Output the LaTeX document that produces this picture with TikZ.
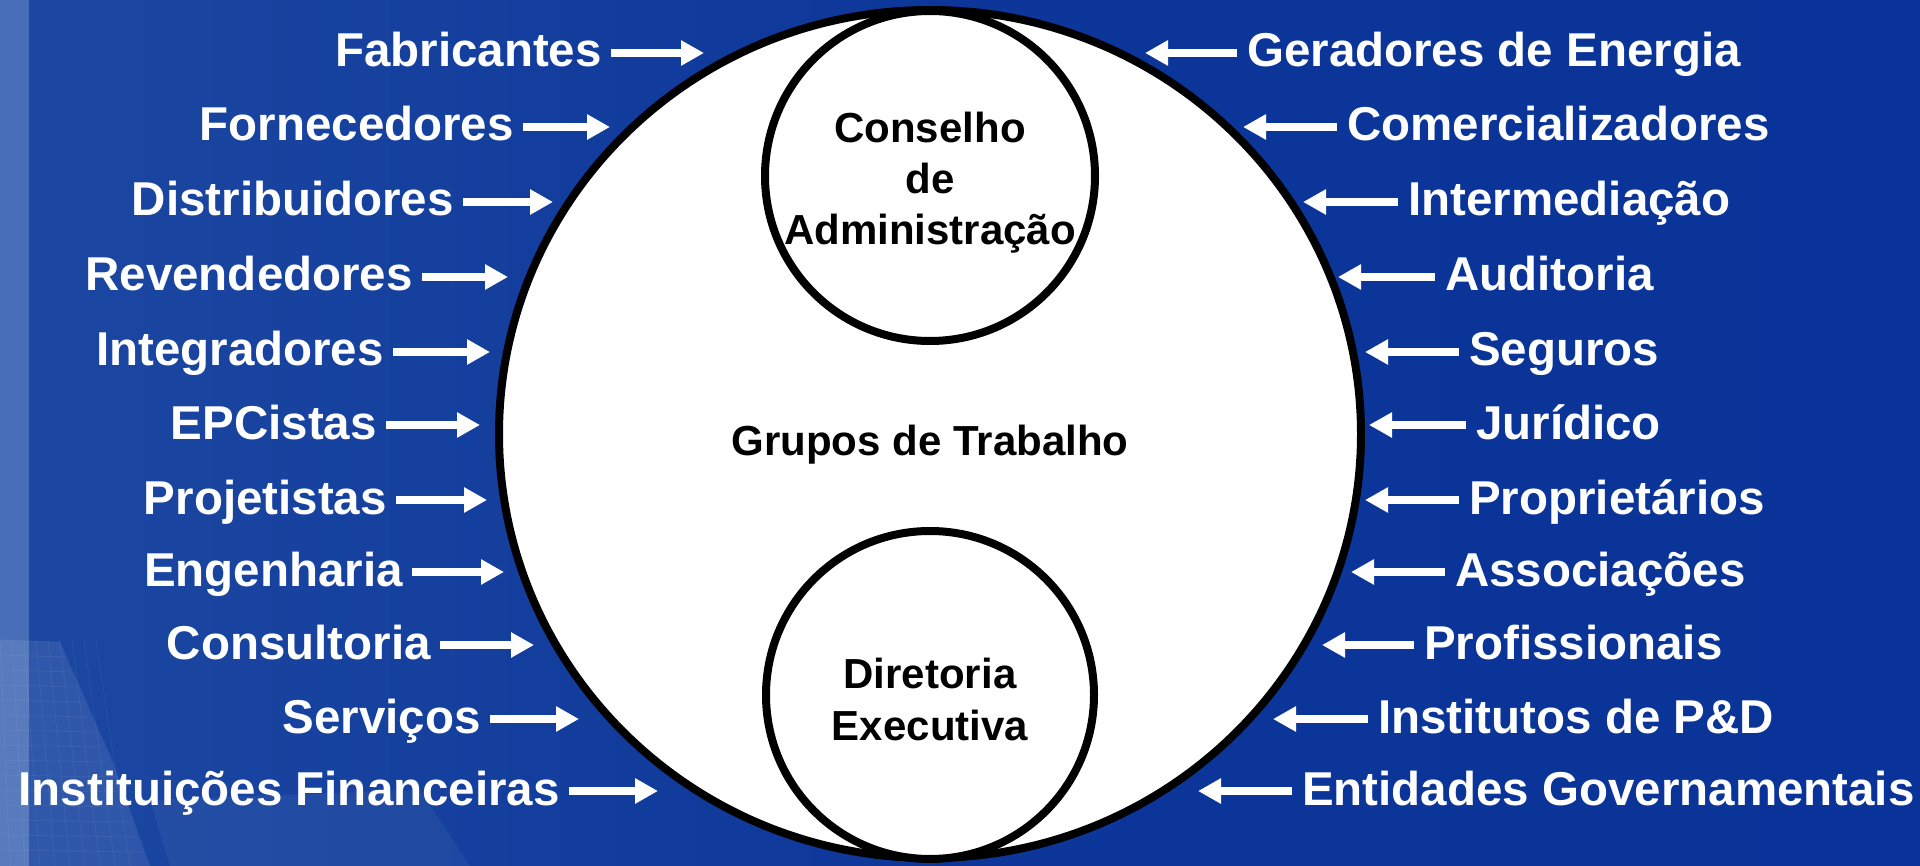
\documentclass[tikz,border=0pt]{standalone}
\usepackage{fontspec}
\setmainfont{Liberation Sans}
\usetikzlibrary{arrows.meta,shapes.geometric}
\definecolor{bgA}{RGB}{44,84,170}
\definecolor{bgB}{RGB}{28,72,162}
\definecolor{bgC}{RGB}{12,54,153}
\definecolor{bgD}{RGB}{6,48,150}
\definecolor{strip}{RGB}{72,110,184}
\pgfdeclarehorizontalshading{bgshade}{100bp}{color(0bp)=(bgA); color(25bp)=(bgB); color(50bp)=(bgC); color(100bp)=(bgD)}
\tikzset{
  lbl/.style={text=white, inner sep=0pt, font=\bfseries\fontsize{47.5}{57}\selectfont},
  inner/.style={text=black, inner sep=0pt, font=\bfseries\fontsize{42}{51}\selectfont},
  arr/.style={white, line width=8pt, -{Triangle[length=23pt,width=24pt]}},
  ring/.style={circle, draw=black, line width=8pt, fill=white, inner sep=0pt},
}
\begin{document}
\begin{tikzpicture}[x=1pt,y=-1pt]
\useasboundingbox (0,0) rectangle (1920,866);
% background
\shade[shading=bgshade] (0,0) rectangle (1920,866);
\fill[strip] (0,0) rectangle (29,866);
% faint solar panel, bottom left
\fill[white, opacity=0.09] (0,640) -- (60,642) -- (112,760) -- (150,866) -- (0,866) -- cycle;
\fill[white, opacity=0.05] (150,800) -- (420,790) -- (470,866) -- (170,866) -- cycle;
\begin{scope}[white, opacity=0.06, line width=0.8pt]
  \foreach \k in {0,...,14} {\draw (0,640+\k*15) -- (60+\k*6,642+\k*15);}
  \foreach \k in {0,...,8} {\draw (\k*12,640) -- (\k*15+10,866);}
\end{scope}
% main ellipse and circles
\node[ellipse, draw=black, line width=8pt, fill=white, minimum width=862pt, minimum height=848pt, inner sep=0pt] (grupo) at (930,434) {};
\node[inner, anchor=base] (gt) at (930,456) {Grupos de Trabalho};
\node[ring, minimum size=330pt] (conselho) at (930,176) {};
\node[inner, anchor=base] (c1) at (930,143) {Conselho};
\node[inner, anchor=base] (c2) at (930,194) {de};
\node[inner, anchor=base] (c3) at (930,245) {Administração};
\node[ring, minimum size=328pt] (diretoria) at (930,695) {};
\node[inner, anchor=base] (d1) at (930,688) {Diretoria};
\node[inner, anchor=base] (d2) at (930,740) {Executiva};
% left labels
\foreach \n/\t/\y/\xe/\xt in {
  fab/Fabricantes/53/602/704,
  forn/Fornecedores/127/514/610,
  dist/Distribuidores/202/454/553,
  rev/Revendedores/277/413/508,
  integ/Integradores/352/384/490,
  epc/EPCistas/425/377/480,
  proj/Projetistas/500/387/487,
  eng/Engenharia/572/403/504,
  cons/Consultoria/645/431/534,
  serv/Serviços/719/481/579,
  inst/Instituições Financeiras/791/560/658} {
  \node[lbl, anchor=base east] (\n) at (\xe,\y+14) {\t};
  \coordinate (\n-tip) at (\xt,\y);
  \draw[arr] ([xshift=9pt,yshift=14pt]\n.base east) -- (\n-tip);
}
% right labels
\foreach \n/\t/\y/\xl/\xt in {
  ger/Geradores de Energia/53/1247/1145,
  com/Comercializadores/127/1347/1243,
  inter/Intermediação/202/1408/1303,
  aud/Auditoria/277/1445/1338,
  seg/Seguros/352/1469/1365,
  jur/Jurídico/425/1476/1369,
  prop/Proprietários/500/1469/1365,
  assoc/Associações/572/1455/1351,
  prof/Profissionais/645/1424/1322,
  ipd/Institutos de P\&D/719/1378/1273,
  ent/Entidades Governamentais/791/1302/1198} {
  \node[lbl, anchor=base west] (\n) at (\xl,\y+14) {\t};
  \coordinate (\n-tip) at (\xt,\y);
  \draw[arr] ([xshift=-10pt,yshift=14pt]\n.base west) -- (\n-tip);
}
\end{tikzpicture}
\end{document}
